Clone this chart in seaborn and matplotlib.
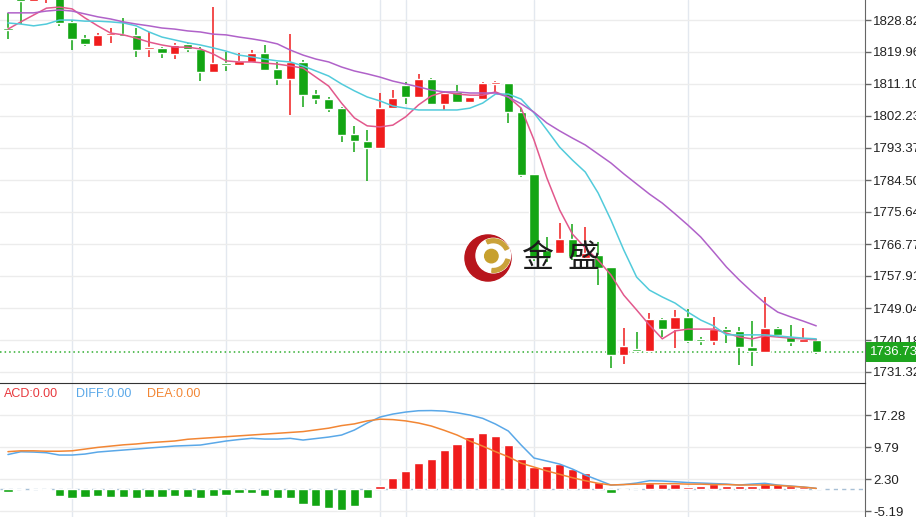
import numpy as np
import pandas as pd
import seaborn as sns
import matplotlib
matplotlib.use("Agg")
import matplotlib.pyplot as plt
import matplotlib.transforms as mtransforms
from matplotlib.patches import Circle, Wedge

# candle data (price)
opens = [1826.6, 1836.6, 1834.1, 1835.5, 1836.6, 1828.3, 1823.8, 1821.6,
         1824.7, 1824.9, 1824.7, 1820.8, 1821.1, 1819.4, 1822.2, 1820.8,
         1814.4, 1816.9, 1816.4, 1817.2, 1819.7, 1815.3, 1812.5, 1817.2,
         1808.3, 1806.9, 1804.4, 1797.2, 1795.3, 1793.4, 1804.4, 1810.8,
         1807.5, 1812.5, 1805.6, 1808.9, 1806.1, 1806.9, 1811.1, 1811.4,
         1803.3, 1786.2, 1765.1, 1764.3, 1768.2, 1762.9, 1763.7, 1760.4,
         1736.0, 1737.7, 1737.1, 1746.0, 1743.2, 1746.6, 1740.5, 1739.9,
         1743.2, 1742.7, 1738.2, 1736.9, 1743.5, 1741.0, 1739.6, 1740.2]
closes = [1826.1, 1834.1, 1834.9, 1836.6, 1828.0, 1823.6, 1822.2, 1824.7,
          1824.9, 1824.4, 1820.5, 1821.1, 1819.7, 1821.9, 1820.8, 1814.4,
          1816.9, 1816.4, 1817.5, 1819.7, 1815.0, 1812.5, 1817.2, 1808.0,
          1806.9, 1804.2, 1797.0, 1795.3, 1793.4, 1804.4, 1807.2, 1807.5,
          1812.5, 1805.6, 1808.6, 1806.1, 1807.5, 1811.4, 1811.7, 1803.3,
          1785.9, 1762.9, 1763.2, 1768.2, 1763.2, 1764.3, 1760.1, 1736.0,
          1738.5, 1737.1, 1746.0, 1743.2, 1746.6, 1739.9, 1739.9, 1743.2,
          1742.4, 1738.2, 1737.1, 1743.5, 1741.6, 1739.6, 1740.5, 1736.73]
highs = [1830.8, 1837.7, 1835.7, 1837.1, 1837.7, 1828.8, 1824.7, 1825.2,
         1826.6, 1829.4, 1826.6, 1825.5, 1821.3, 1822.5, 1822.5, 1821.3,
         1832.4, 1820.0, 1819.7, 1820.5, 1821.9, 1817.2, 1824.9, 1817.7,
         1809.4, 1807.5, 1804.7, 1799.5, 1798.4, 1808.6, 1809.4, 1811.7,
         1813.9, 1812.8, 1809.2, 1810.8, 1807.6, 1811.7, 1811.9, 1811.5,
         1804.4, 1786.3, 1768.7, 1772.6, 1772.3, 1771.5, 1767.3, 1760.5,
         1743.5, 1742.4, 1747.7, 1746.3, 1748.5, 1748.8, 1741.0, 1746.6,
         1743.8, 1743.8, 1745.4, 1752.1, 1743.8, 1744.3, 1743.5, 1740.5]
lows = [1823.6, 1827.7, 1833.8, 1833.5, 1827.2, 1820.5, 1821.6, 1821.3,
        1822.5, 1824.1, 1818.6, 1818.6, 1818.3, 1818.0, 1820.0, 1811.9,
        1814.3, 1814.7, 1816.2, 1817.1, 1814.7, 1810.8, 1802.5, 1804.7,
        1805.6, 1803.3, 1795.0, 1792.3, 1784.2, 1793.2, 1804.3, 1805.6,
        1807.4, 1805.3, 1803.9, 1805.8, 1806.0, 1806.8, 1808.9, 1800.3,
        1785.3, 1762.1, 1761.8, 1764.1, 1762.3, 1762.8, 1755.4, 1732.4,
        1733.5, 1736.9, 1737.0, 1741.0, 1738.0, 1739.4, 1738.8, 1738.8,
        1739.4, 1733.3, 1733.0, 1736.7, 1741.0, 1738.5, 1739.5, 1736.3]

# moving average lines
ma5 = [1826.3, 1828.3, 1830.2, 1832.1, 1832.4, 1831.9, 1829.4, 1827.2,
       1825.2, 1824.7, 1823.8, 1822.7, 1821.9, 1821.3, 1821.3, 1820.8,
       1819.4, 1817.5, 1817.2, 1817.2, 1816.9, 1816.6, 1816.1, 1815.5,
       1813.0, 1810.5, 1805.8, 1801.7, 1799.5, 1799.2, 1799.7, 1802.0,
       1805.3, 1807.8, 1808.9, 1808.3, 1808.0, 1808.0, 1808.9, 1807.5,
       1804.4, 1795.6, 1785.1, 1776.2, 1769.5, 1765.7, 1762.3, 1758.2,
       1752.6, 1748.5, 1744.3, 1740.5, 1742.7, 1743.2, 1743.2, 1743.2,
       1742.1, 1741.0, 1740.5, 1741.3, 1741.0, 1740.7, 1740.5, 1740.2]
ma10 = [1828.0, 1827.7, 1827.2, 1827.7, 1828.8, 1828.8, 1828.5, 1828.5,
        1828.3, 1828.0, 1827.2, 1825.5, 1824.1, 1823.3, 1822.5, 1821.9,
        1821.1, 1820.2, 1819.1, 1818.6, 1818.0, 1817.5, 1817.2, 1816.1,
        1814.7, 1813.3, 1811.1, 1809.2, 1807.5, 1806.4, 1805.0, 1804.4,
        1803.9, 1803.9, 1803.9, 1803.9, 1804.4, 1805.8, 1808.3, 1808.3,
        1806.9, 1803.1, 1798.4, 1793.6, 1790.0, 1786.7, 1780.9, 1773.4,
        1765.1, 1757.6, 1754.0, 1752.1, 1750.4, 1747.9, 1745.7, 1744.1,
        1741.6, 1741.6, 1741.6, 1741.6, 1741.3, 1741.0, 1740.7, 1740.5]
ma20 = [1830.8, 1830.8, 1830.8, 1831.3, 1831.6, 1831.3, 1830.5, 1829.7,
        1829.1, 1828.3, 1827.7, 1827.2, 1826.6, 1826.3, 1825.8, 1825.5,
        1824.9, 1824.7, 1824.1, 1823.6, 1823.0, 1822.2, 1820.5, 1819.1,
        1818.0, 1817.2, 1815.8, 1814.7, 1813.9, 1813.0, 1811.9, 1811.1,
        1810.3, 1809.4, 1808.9, 1808.9, 1808.6, 1808.6, 1808.6, 1807.5,
        1805.6, 1803.3, 1800.3, 1798.1, 1796.1, 1794.2, 1791.7, 1789.2,
        1786.2, 1783.4, 1780.6, 1778.1, 1775.1, 1772.0, 1768.7, 1764.6,
        1760.4, 1756.8, 1753.5, 1750.4, 1747.9, 1746.6, 1745.4, 1744.1]

# MACD panel
macd_hist = [-0.8, -0.1, -0.1, -0.3, -1.7, -2.1, -2.0, -1.7,
             -1.8, -1.8, -2.1, -2.0, -2.0, -1.7, -1.8, -2.2,
             -1.7, -1.45, -1.05, -1.05, -1.7, -2.1, -2.2, -3.56,
             -4.0, -4.57, -4.96, -4.0, -2.2, 0.65, 2.45, 4.17,
             5.97, 6.97, 9.08, 10.5, 12.05, 13.1, 12.4, 10.2,
             7.1, 5.0, 5.4, 5.7, 4.6, 3.6, 1.5, -0.9,
             -0.3, 0.05, 1.3, 1.05, 1.05, 0.5, 0.73, 1.05,
             0.73, 0.65, 0.73, 1.43, 1.05, 0.65, 0.5, 0.2]
diff_line = [8.03, 8.68, 8.61, 8.45, 7.91, 7.91, 8.14, 8.61,
             8.85, 9.08, 9.31, 9.55, 9.78, 10.02, 10.13, 10.25,
             10.72, 11.19, 11.54, 11.82, 11.65, 11.65, 11.82, 11.42,
             11.77, 12.12, 12.59, 13.76, 15.4, 16.8, 17.5, 17.97,
             18.28, 18.32, 18.2, 17.81, 17.27, 16.5, 15.16, 13.53,
             10.25, 7.21, 6.51, 5.8, 4.63, 3.23, 2.06, 0.89,
             1.01, 1.36, 1.9, 1.83, 1.66, 1.47, 1.36, 1.24,
             1.12, 0.89, 1.12, 1.29, 0.89, 0.66, 0.42, 0.12]
dea_line = [8.7, 8.9, 8.9, 8.8, 8.8, 8.9, 9.3, 9.7,
            10.0, 10.3, 10.5, 10.8, 11.0, 11.2, 11.6, 11.8,
            12.0, 12.2, 12.4, 12.6, 12.8, 13.0, 13.2, 13.4,
            13.8, 14.2, 14.8, 15.2, 15.9, 16.3, 16.2, 15.9,
            15.4, 14.7, 13.7, 12.6, 11.2, 10.0, 8.7, 7.5,
            6.0, 5.1, 4.2, 3.4, 2.6, 1.9, 1.3, 0.9,
            1.0, 1.1, 1.2, 1.2, 1.2, 1.1, 1.1, 1.0,
            1.0, 0.9, 0.9, 0.9, 0.8, 0.6, 0.4, 0.1]

price_ticks = [1828.82, 1819.96, 1811.10, 1802.23, 1793.37, 1784.50,
               1775.64, 1766.77, 1757.91, 1749.04, 1740.18, 1731.32]
macd_ticks = [17.28, 9.79, 2.30, -5.19]
vgrid_idx = [5, 17, 29, 31, 41, 53]
last_price = 1736.73

RED = "#f01c1c"
GREEN = "#13a513"

sns.set_style("white")
plt.rcParams["font.family"] = ["Liberation Sans", "DejaVu Sans"]

df = pd.DataFrame({"idx": np.arange(len(closes)), "open": opens, "close": closes,
                   "high": highs, "low": lows, "ma5": ma5, "ma10": ma10, "ma20": ma20,
                   "hist": macd_hist, "diff": diff_line, "dea": dea_line})

W, H = 916, 517
fig = plt.figure(figsize=(W / 100, H / 100), dpi=100)
ax = fig.add_axes([0, (H - 383) / H, 865 / W, 383 / H])
ax2 = fig.add_axes([0, 0, 865 / W, 134 / H])

# --- candles
for _, r in df.iterrows():
    col = RED if r["close"] >= r["open"] else GREEN
    ax.vlines(r["idx"], r["low"], r["high"], color=col, lw=1.1, zorder=3)
    h = max(abs(r["close"] - r["open"]), 0.45)
    ax.bar(r["idx"], h, bottom=min(r["open"], r["close"]), width=0.72,
           color=col, zorder=3)

sns.lineplot(data=df, x="idx", y="ma5", ax=ax, color="#e2588c", lw=1.1, zorder=4, legend=False)
sns.lineplot(data=df, x="idx", y="ma10", ax=ax, color="#52cbdb", lw=1.1, zorder=4, legend=False)
sns.lineplot(data=df, x="idx", y="ma20", ax=ax, color="#b062c9", lw=1.1, zorder=4, legend=False)

ax.axhline(last_price, color="#2fae2f", lw=1.1, ls=(0, (1, 2)), zorder=2)

ax.set_xlim(-0.62, 66.8)
ax.set_ylim(1728.27, 1834.36)
ax.set_yticks(price_ticks)
ax.set_yticklabels([f"{t:.2f}" for t in price_ticks])
ax.yaxis.tick_right()
ax.set_xticks([])
ax.grid(axis="y", color="#ececec", lw=1)
for v in vgrid_idx:
    ax.axvline(v, color="#e3e8ef", lw=1, zorder=0)
ax.set_xlabel("")
ax.set_ylabel("")
ax.tick_params(axis="y", length=4, width=1, color="#666", labelsize=9.5,
               labelcolor="#222", pad=2)
for s in ["top", "left", "bottom"]:
    ax.spines[s].set_visible(False)
ax.spines["right"].set_color("#666")

trans = mtransforms.blended_transform_factory(ax.transAxes, ax.transData)
ax.text(1 + 5 / 865, last_price, f"{last_price:.2f}", transform=trans,
        ha="left", va="center", fontsize=9.5, color="white", zorder=6,
        bbox=dict(boxstyle="square,pad=0.3", fc="#1ea51e", ec="none"),
        clip_on=False)

# --- MACD
bar_cols = [RED if v > 0 else GREEN for v in macd_hist]
ax2.bar(df["idx"], df["hist"], width=0.72, color=bar_cols, zorder=3)
ax2.axhline(0, color="#a8c0d6", lw=1, ls=(0, (3, 3)), zorder=2)
sns.lineplot(data=df, x="idx", y="diff", ax=ax2, color="#5aa8e8", lw=1.1, zorder=4, legend=False)
sns.lineplot(data=df, x="idx", y="dea", ax=ax2, color="#f28634", lw=1.1, zorder=4, legend=False)

ax2.set_xlim(-0.62, 66.8)
ax2.set_ylim(-6.59, 24.77)
ax2.set_yticks(macd_ticks)
ax2.set_yticklabels([f"{t:.2f}" for t in macd_ticks])
ax2.yaxis.tick_right()
ax2.set_xticks([])
ax2.grid(axis="y", color="#ececec", lw=1)
for v in vgrid_idx:
    ax2.axvline(v, color="#e3e8ef", lw=1, zorder=0)
ax2.set_xlabel("")
ax2.set_ylabel("")
ax2.tick_params(axis="y", length=4, width=1, color="#666", labelsize=9.5,
                labelcolor="#222", pad=2)
for s in ["left", "bottom"]:
    ax2.spines[s].set_visible(False)
ax2.spines["right"].set_color("#666")
ax2.spines["top"].set_color("#333")

ty = 1 - 11 / 134
ax2.text(4 / 865, ty, "ACD:0.00", transform=ax2.transAxes, color="#e8383d",
         fontsize=9, va="center")
ax2.text(76 / 865, ty, "DIFF:0.00", transform=ax2.transAxes, color="#5aa8e8",
         fontsize=9, va="center")
ax2.text(147 / 865, ty, "DEA:0.00", transform=ax2.transAxes, color="#f28634",
         fontsize=9, va="center")

# --- watermark logo
lax = fig.add_axes([464 / W, 1 - 282 / H, 48 / W, 48 / H])
lax.set_xlim(0, 1)
lax.set_ylim(0, 1)
lax.axis("off")
lax.add_patch(Circle((0.5, 0.5), 0.48, color="#b8151c"))
lax.add_patch(Circle((0.61, 0.55), 0.36, color="white"))
lax.add_patch(Wedge((0.61, 0.55), 0.35, 25, 115, width=0.08, color="#caa23a"))
lax.add_patch(Wedge((0.61, 0.55), 0.35, -95, -15, width=0.08, color="#caa23a"))
lax.add_patch(Circle((0.57, 0.54), 0.14, color="#c7a02e"))

fig.text(538 / W, 1 - 258 / H, "金", fontsize=23, family=["Noto Sans CJK SC"],
         ha="center", va="center", color="#1c1c1c", zorder=10)
fig.text(584 / W, 1 - 258 / H, "盛", fontsize=23, family=["Noto Sans CJK SC"],
         ha="center", va="center", color="#1c1c1c", zorder=10)

fig.savefig("out.png", dpi=100)
